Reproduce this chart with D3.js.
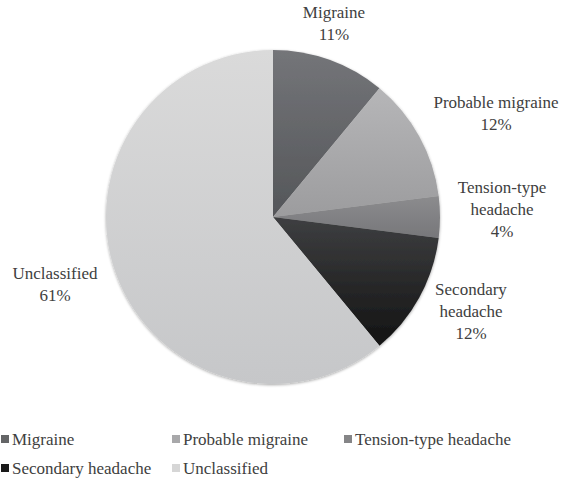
<!DOCTYPE html>
<html><head><meta charset="utf-8">
<script src="https://cdn.jsdelivr.net/npm/d3@7"></script>
</head><body style="margin:0;background:#fff">
<script>
const categories = ["Migraine","Probable migraine","Tension-type headache","Secondary headache","Unclassified"];
const values = [11,12,4,12,61];
const labelLines = [["Migraine","11%"],["Probable migraine","12%"],["Tension-type","headache","4%"],["Secondary","headache","12%"],["Unclassified","61%"]];
const gradTop = ["#747579","#b6b6b8","#8c8c8e","#3e3f41","#dadada"];
const gradBot = ["#545659","#9c9c9e","#77777a","#131313","#c6c7c9"];
const legendColors = ["#646567","#a8a8aa","#858587","#1a1a1a","#d6d6d6"];

const FONT = "'Liberation Serif', 'Times New Roman', serif";
const W=570,H=481, cx=273, cy=217, R=167;
const svg=d3.select("body").append("svg").attr("width",W).attr("height",H).style("display","block");
const defs=svg.append("defs");
categories.forEach((c,i)=>{
  const g=defs.append("linearGradient").attr("id","g"+i).attr("x1",0).attr("y1",0).attr("x2",0).attr("y2",1);
  g.append("stop").attr("offset","0%").attr("stop-color",gradTop[i]);
  g.append("stop").attr("offset","100%").attr("stop-color",gradBot[i]);
});
const f=defs.append("filter").attr("id","sh").attr("x","-10%").attr("y","-10%").attr("width","120%").attr("height","120%");
f.append("feGaussianBlur").attr("in","SourceAlpha").attr("stdDeviation",1.5).attr("result","b");
f.append("feOffset").attr("in","b").attr("dx",0).attr("dy",1).attr("result","o");
f.append("feComponentTransfer").attr("in","o").attr("result","o2").append("feFuncA").attr("type","linear").attr("slope",0.35);
const m=f.append("feMerge"); m.append("feMergeNode").attr("in","o2"); m.append("feMergeNode").attr("in","SourceGraphic");

const pie=d3.pie().sort(null).value(d=>d)(values);
const arc=d3.arc().innerRadius(0).outerRadius(R);
const gp=svg.append("g").attr("transform",`translate(${cx},${cy})`).attr("filter","url(#sh)");
gp.selectAll("path").data(pie).join("path").attr("d",arc).attr("fill",(d,i)=>`url(#g${i})`);

const labelPos = [[334,24],[496,114],[502,210],[471,312],[55,285]];
const lh=22;
labelLines.forEach((lines,i)=>{
  const [x,y]=labelPos[i];
  lines.forEach((s,j)=>{
    svg.append("text").attr("text-anchor","middle").attr("font-size",17)
      .style("font-family",FONT).attr("fill","#404040")
      .attr("x",x).attr("y",y+(j-(lines.length-1)/2)*lh+5).text(s);
  });
});

const legX=[1,172,344], legY=[440,469];
categories.forEach((c,i)=>{
  const r=Math.floor(i/3), col=i%3;
  const x=legX[col], y=legY[r];
  svg.append("rect").attr("x",x).attr("y",y-5).attr("width",8).attr("height",8).attr("fill",legendColors[i]);
  svg.append("text").attr("x",x+11).attr("y",y+5).attr("font-size",17)
    .style("font-family",FONT).attr("fill","#404040").text(c);
});
</script>
</body></html>
